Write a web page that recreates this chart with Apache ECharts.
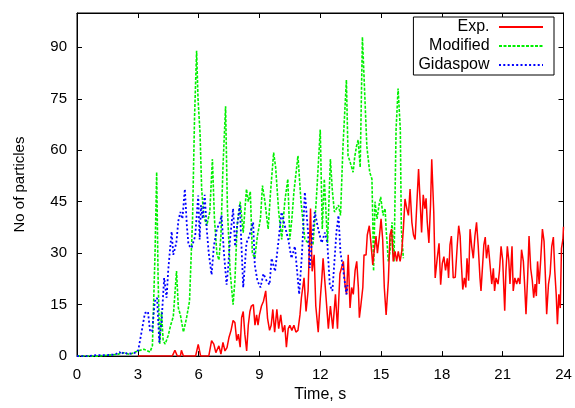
<!DOCTYPE html>
<html>
<head>
<meta charset="utf-8">
<script src="https://cdn.jsdelivr.net/npm/echarts@6/dist/echarts.min.js"></script>
<style>
html,body{margin:0;padding:0;background:#fff;}
#c{width:575px;height:408px;}
</style>
</head>
<body>
<div id="c"></div>
<script>
// ---- data (time in s, number of particles) ----
const xTicks = [0, 3, 6, 9, 12, 15, 18, 21, 24];
const yTicks = [0, 15, 30, 45, 60, 75, 90];

const expTime = [3.0,4.7,4.83,4.95,5.1,5.15,5.25,5.85,5.98,6.1,6.5,6.64,6.75,6.85,7.0,7.1,7.2,7.3,7.4,7.5,7.6,7.7,7.79,7.88,7.96,8.05,8.12,8.2,8.28,8.37,8.45,8.53,8.6,8.7,8.78,8.86,8.93,9.0,9.1,9.2,9.31,9.4,9.5,9.58,9.66,9.75,9.86,9.95,10.05,10.15,10.25,10.33,10.42,10.5,10.6,10.7,10.8,10.9,11.0,11.07,11.2,11.3,11.4,11.52,11.6,11.7,11.78,11.9,12.0,12.08,12.14,12.25,12.4,12.5,12.62,12.75,12.85,12.97,13.06,13.14,13.22,13.3,13.38,13.47,13.55,13.63,13.72,13.8,13.88,13.93,14.0,14.1,14.16,14.26,14.32,14.42,14.5,14.59,14.65,14.75,14.82,14.92,15.0,15.08,15.16,15.25,15.36,15.44,15.52,15.6,15.69,15.77,15.85,15.94,16.02,16.1,16.18,16.27,16.35,16.43,16.52,16.6,16.68,16.77,16.85,16.92,17.0,17.08,17.16,17.22,17.28,17.36,17.44,17.5,17.6,17.67,17.77,17.86,17.94,18.02,18.1,18.18,18.27,18.33,18.4,18.47,18.56,18.66,18.76,18.83,18.9,18.96,19.03,19.11,19.18,19.24,19.32,19.39,19.47,19.55,19.63,19.71,19.79,19.88,19.93,20.01,20.07,20.14,20.2,20.29,20.37,20.46,20.54,20.6,20.67,20.77,20.84,20.92,21.0,21.1,21.16,21.23,21.3,21.36,21.46,21.52,21.6,21.69,21.77,21.85,21.93,22.02,22.08,22.15,22.23,22.3,22.38,22.46,22.53,22.6,22.66,22.72,22.8,22.87,22.96,23.04,23.11,23.17,23.26,23.34,23.42,23.5,23.57,23.64,23.7,23.77,23.84,23.9,23.97,24.0];
const expCount = [0,0,1.7,0,0,1.7,0,0,3.4,0,0,4.5,3.5,1,3,0.6,4,1.5,2.5,5.5,7.5,10.4,9.8,4.5,6.4,2.6,11.2,13,6.4,1.5,9,13,14.6,15,9,12,9,12,14.6,16,19,11,7.5,9,13.6,7,13.6,8,12,7,9,2.6,8,9,7.5,9,7,7.5,12,17,22.8,13,19,43,24.7,29.5,14.6,7,16.6,22.8,28.5,20,8,14.6,8,18,8,24,23.7,27.6,20.8,18,29.5,14,20,18,25,27.6,20,11.2,14.6,20,29.5,29.5,35.3,38,33,26.6,30,35,30,35,40,34,20,12,22,35.3,37,27.6,30.5,27.6,30.5,27.6,30.5,37,45.8,43,41,48.7,39,35.3,34,45,54.5,46,36,47,43,46,39,33,44,57.4,42,22.8,28.5,32.9,20.8,27,29,25,28.5,22.8,32.4,35,22.8,23,32.4,38,35,27,19.4,22.8,20,28.5,22,37,32,28.5,35,39,32.4,22.8,19,26.6,32.4,34.7,28.5,32.4,32.4,21,25.6,19,22.8,21,24.8,32,28,13.2,24.8,32,28,21,32,19,22.8,21,22.8,21,31,27.6,21,12.2,22.8,35,25.6,22,17,21,17.5,27.6,21,27.6,37,33.5,22.8,12.2,21,24,32,34.7,24.8,18,9.3,18,14,31.4,34,37.7];

const modTime = [0,1.0,2.0,2.3,2.6,3.0,3.3,3.6,3.72,3.85,3.93,4.0,4.08,4.17,4.25,4.35,4.5,4.62,4.75,4.91,5.0,5.1,5.25,5.4,5.55,5.7,5.8,5.9,5.97,6.07,6.15,6.25,6.4,6.55,6.68,6.78,6.9,7.0,7.1,7.2,7.33,7.42,7.55,7.7,7.79,7.9,8.05,8.2,8.36,8.45,8.55,8.65,8.77,8.9,9.05,9.15,9.27,9.43,9.55,9.7,9.8,9.95,10.1,10.25,10.4,10.5,10.6,10.7,10.9,11.05,11.24,11.4,11.64,11.8,12.0,12.1,12.2,12.36,12.5,12.6,12.7,12.9,13.0,13.12,13.29,13.37,13.45,13.55,13.62,13.7,13.79,13.87,13.97,14.08,14.2,14.3,14.44,14.55,14.6,14.63,14.7,14.8,14.9,14.98,15.1,15.2,15.25,15.36,15.45,15.54,15.64,15.74,15.84,15.95,16.0,16.1];
const modCount = [0,0,0.5,1,0.5,1.5,2,1.2,3,30,53.6,22.8,3.5,13,4.5,3.5,6,9,11.5,24.8,14,12,7,11,16,40,70,89,75,65,48.7,41,38,42,57.4,40,30,28,35,55,72.8,43,25,15,22,38,45,36,48.7,45,48,30,28.5,35,40,49.7,45,37,48,59.3,55,42,34,45,51.6,34,40,47.8,58.4,45,34,33,32.4,45,66,37,51.6,33,57.4,48,42,44,41,61,80.5,58.4,57,55,53.6,58,61.2,63,55,93,75.6,61,53.6,51.6,37,24.8,45,40,44,46.4,41,43,37,27.6,31,39,27.6,66,78,66,37,28.5];

const gidTime = [0,0.5,1.0,1.5,1.9,2.1,2.2,2.3,2.5,2.7,2.9,3.02,3.2,3.35,3.5,3.6,3.7,3.84,3.95,4.06,4.17,4.3,4.42,4.5,4.58,4.67,4.75,4.83,4.9,5.0,5.1,5.2,5.32,5.42,5.5,5.65,5.83,5.98,6.05,6.12,6.2,6.3,6.4,6.5,6.64,6.75,6.9,7.05,7.13,7.25,7.38,7.46,7.55,7.7,7.8,7.9,8.03,8.2,8.36,8.5,8.69,8.77,8.9,9.05,9.2,9.35,9.5,9.6,9.77,9.93,10.09,10.25,10.42,10.58,10.75,10.96,11.1,11.24,11.4,11.48,11.58,11.73,11.9,12.07,12.23,12.35,12.47,12.6,12.8,12.9,13.0,13.1,13.2,13.29,13.35];
const gidCount = [0,0,0.3,0.3,0.5,1.2,0.5,1.2,0.6,0.8,1,1.7,7.5,12.5,13,7.5,7,16,17,4,10,22.8,17,25,30.5,36.3,29.5,30,33,39.4,42,40,48.7,38,32.4,31.5,35,46.8,34,44,40,47,37,30,23.7,32,37,39,41,30,20.8,26,34,43,32,38,44,20,33,35,39,26.5,22,20,24,22,20.8,28.5,24.7,33,42,38,34,28.5,32,18,30,47.8,36,25.7,33,42,37,33,36,33,20.8,19,36.3,41,30,26.5,22,18,20.7];

function zip(t, v) { return t.map((x, i) => [x, v[i]]); }

const font = 'Liberation Sans, Arial, Helvetica, sans-serif';
const chart = echarts.init(document.getElementById('c'), null, {renderer: 'canvas'});

const tickStyle = {show: true, inside: true, length: 5, lineStyle: {color: '#000', width: 1}};
const lineStyleAx = {show: true, onZero: false, lineStyle: {color: '#000', width: 1}};
const hiddenSym = {color: 'rgba(0,0,0,0)', borderColor: 'rgba(0,0,0,0)', borderWidth: 0};

chart.setOption({
  animation: false,
  backgroundColor: '#fff',
  grid: {left: 77, right: 11.5, top: 13, bottom: 49, containLabel: false,
         show: true, borderColor: '#000', borderWidth: 1, backgroundColor: 'transparent'},
  legend: {
    orient: 'vertical',
    align: 'right',
    right: 21,
    top: 17,
    padding: [2, 10, 2, 5],
    itemWidth: 44,
    itemHeight: 14,
    itemGap: 3,
    borderColor: '#000',
    borderWidth: 1,
    borderRadius: 0,
    backgroundColor: '#fff',
    formatter: n => n + ' ',
    itemStyle: hiddenSym,
    textStyle: {fontFamily: font, fontSize: 16, color: '#000'},
    data: ['Exp.', 'Modified', 'Gidaspow']
  },
  xAxis: [{
    type: 'value', min: xTicks[0], max: xTicks[xTicks.length - 1], interval: 3,
    name: 'Time, s', nameLocation: 'middle', nameGap: 27,
    nameTextStyle: {fontFamily: font, fontSize: 16, color: '#000'},
    axisLine: lineStyleAx, axisTick: tickStyle, splitLine: {show: false},
    axisLabel: {fontFamily: font, fontSize: 15, color: '#000', margin: 11}
  }, {
    type: 'value', position: 'top', min: xTicks[0], max: xTicks[xTicks.length - 1], interval: 3,
    axisLine: lineStyleAx, axisTick: tickStyle, splitLine: {show: false}, axisLabel: {show: false}
  }],
  yAxis: [{
    type: 'value', min: 0, max: 100, interval: 15,
    name: 'No of particles', nameLocation: 'middle', nameGap: 50,
    nameTextStyle: {fontFamily: font, fontSize: 15, color: '#000'},
    axisLine: lineStyleAx, axisTick: tickStyle, splitLine: {show: false},
    axisLabel: {fontFamily: font, fontSize: 15, color: '#000', margin: 10,
      formatter: v => (yTicks.indexOf(v) >= 0 ? String(v) : '')}
  }, {
    type: 'value', position: 'right', min: 0, max: 100, interval: 15,
    axisLine: lineStyleAx, axisTick: tickStyle, splitLine: {show: false}, axisLabel: {show: false}
  }],
  series: [{
    name: 'Exp.', type: 'line', symbol: 'none', data: zip(expTime, expCount), z: 3,
    lineStyle: {color: '#ff0000', width: 1.5, type: 'solid'}, itemStyle: {color: '#ff0000'}
  }, {
    name: 'Modified', type: 'line', symbol: 'none', data: zip(modTime, modCount), z: 2,
    lineStyle: {color: '#00f000', width: 1.6, type: [3, 1.5]}, itemStyle: {color: '#00f000'}
  }, {
    name: 'Gidaspow', type: 'line', symbol: 'none', data: zip(gidTime, gidCount), z: 4,
    lineStyle: {color: '#0000ff', width: 1.8, type: [2, 2.3]}, itemStyle: {color: '#0000ff'}
  }, {
    name: 'mirror', type: 'line', xAxisIndex: 1, yAxisIndex: 1, data: [], silent: true
  }]
});
</script>
</body>
</html>
